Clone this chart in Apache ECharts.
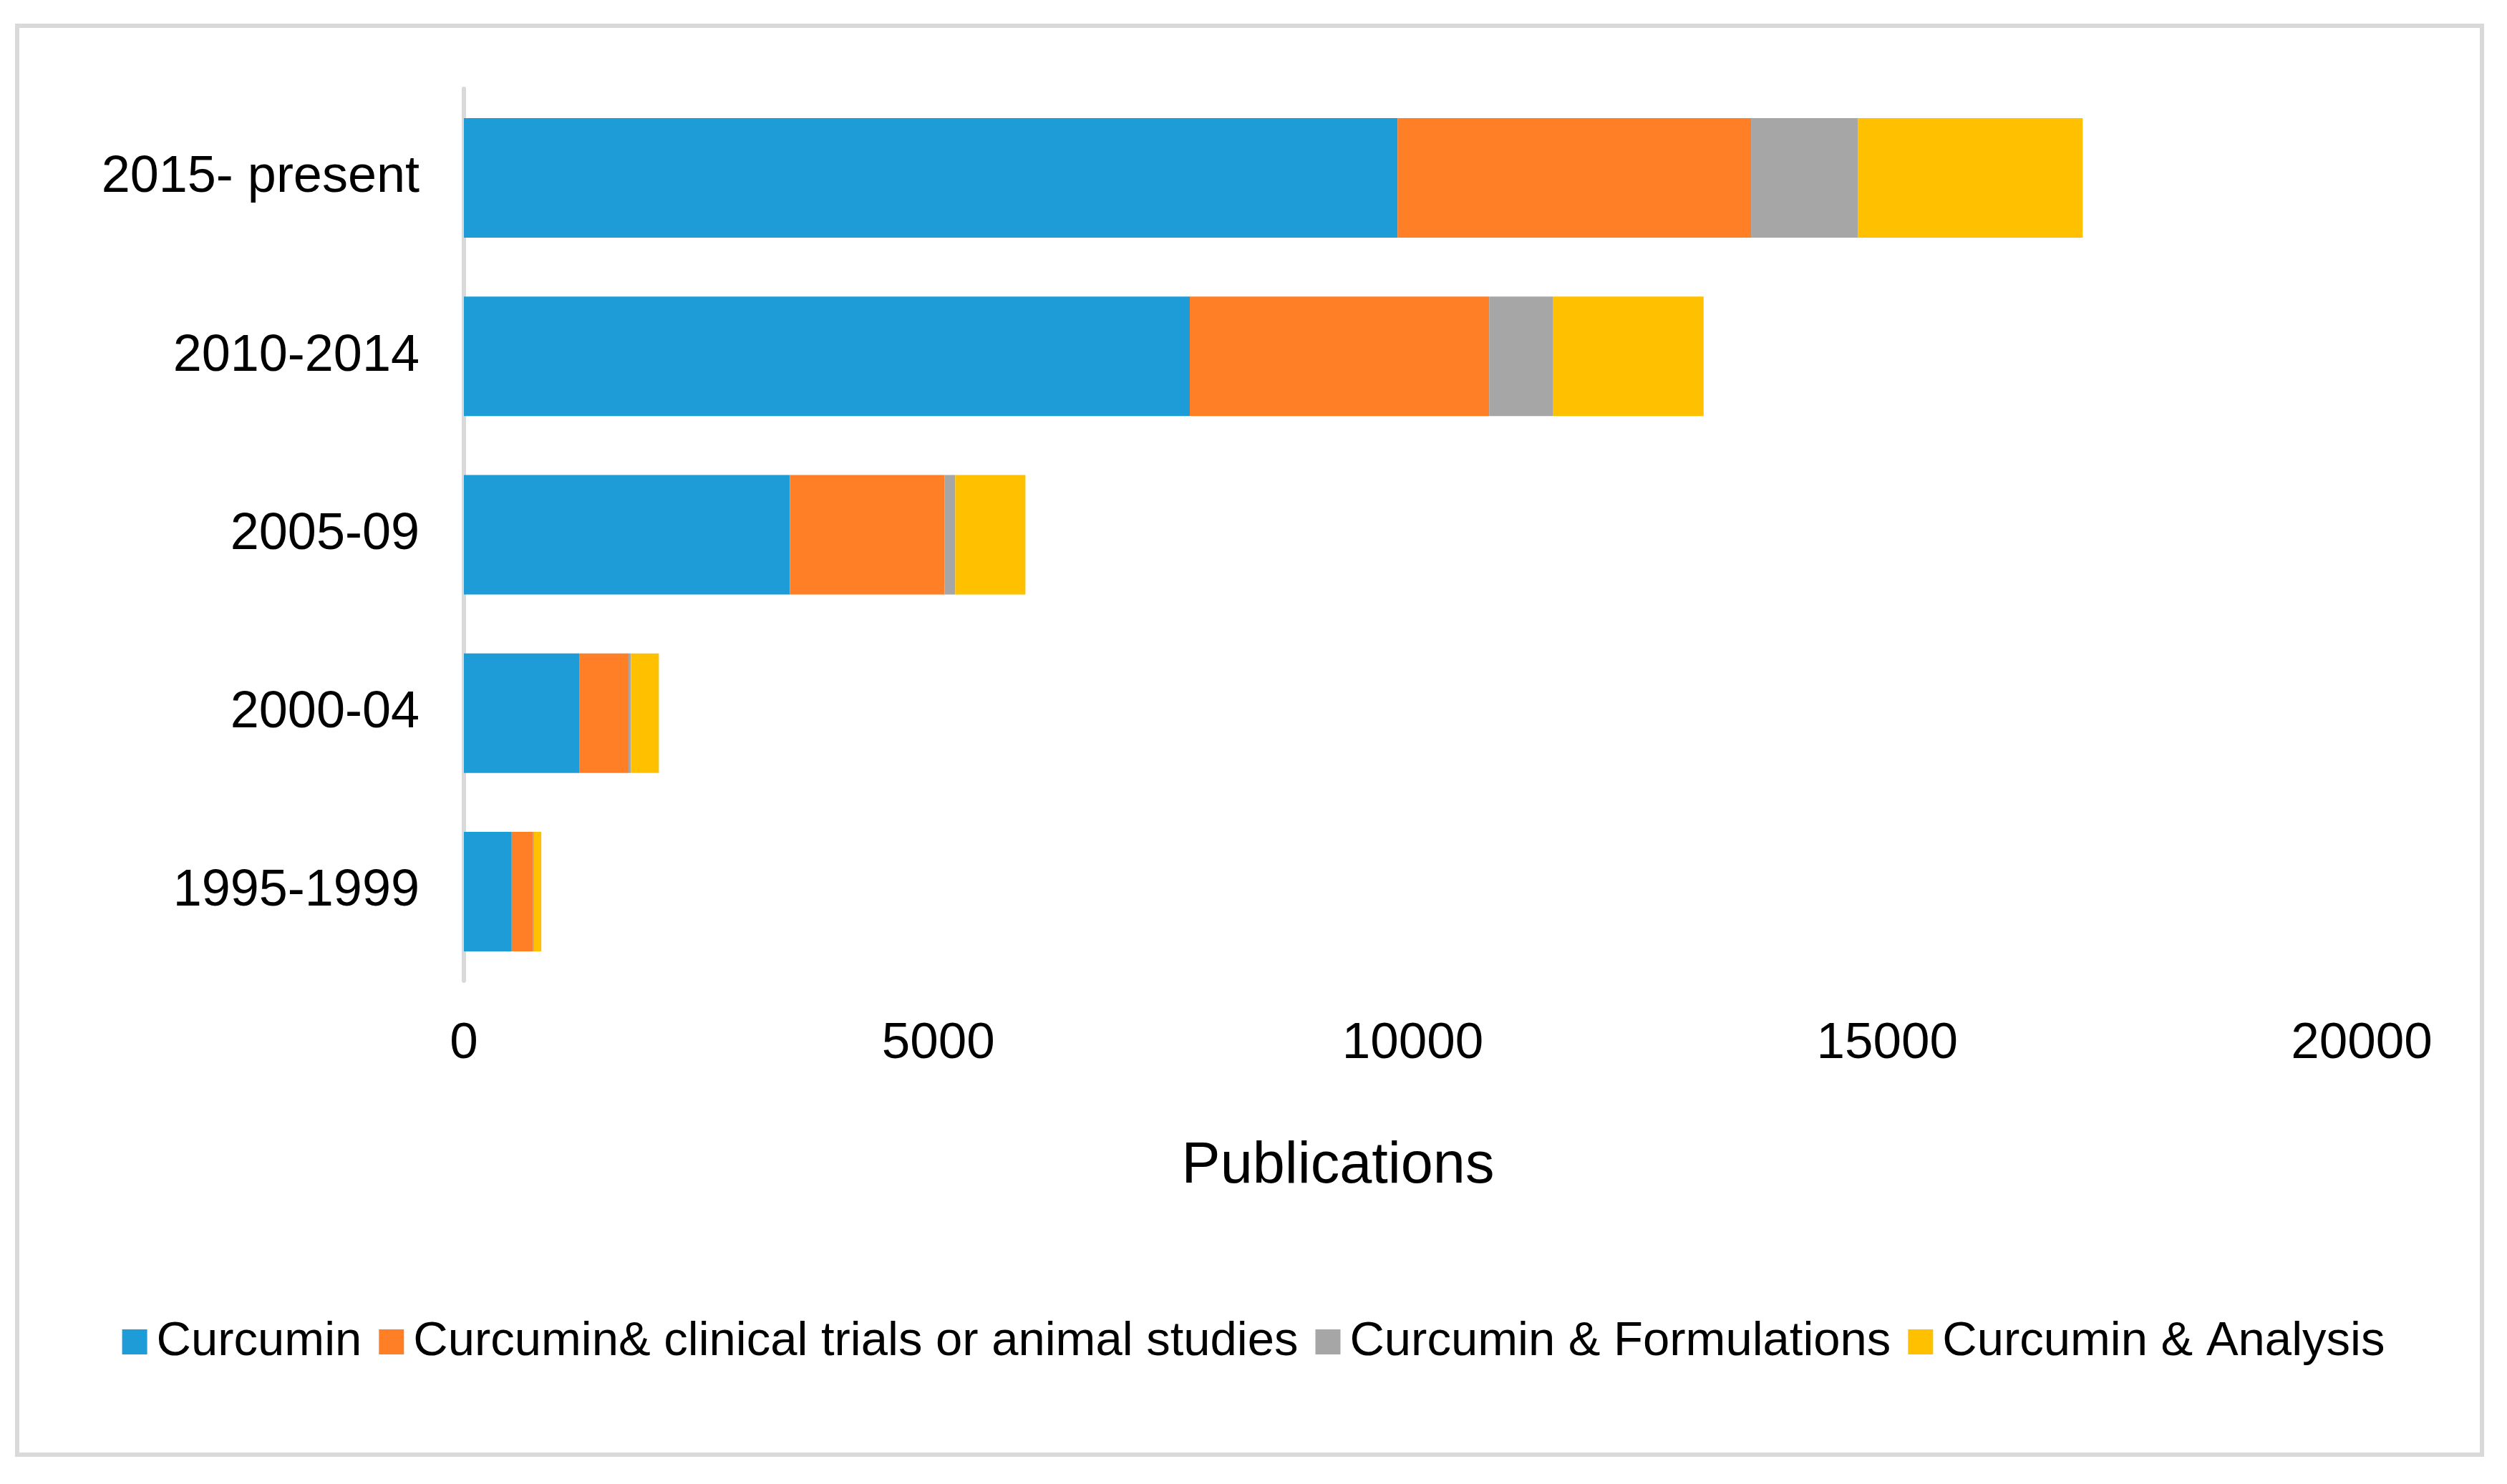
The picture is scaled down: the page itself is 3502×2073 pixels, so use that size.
<!DOCTYPE html>
<html>
<head>
<meta charset="utf-8">
<title>Curcumin publications</title>
<script src="https://cdn.jsdelivr.net/npm/echarts@6/dist/echarts.min.js"></script>
<style>
  html, body { margin: 0; padding: 0; background: #fff; }
  #chart { width: 3502px; height: 2073px; }
</style>
</head>
<body>
<div id="chart"></div>
<script>
// periods, bottom to top
const periods = ["1995-1999", "2000-04", "2005-09", "2010-2014", "2015- present"];

const seriesNames = [
  "Curcumin",
  "Curcumin& clinical trials or animal studies",
  "Curcumin & Formulations",
  "Curcumin & Analysis"
];

// values
const curcumin = [504, 1215, 3435, 7650, 9840];
const clinical = [226, 520, 1630, 3155, 3725];
const formulations = [9, 25, 113, 670, 1125];
const analysis = [77, 295, 740, 1590, 2370];

const colors = ["#1e9cd7", "#ff7f27", "#a6a6a6", "#ffc000"];
const font = "Liberation Sans, Arial, sans-serif";

const chart = echarts.init(document.getElementById("chart"));

const seriesData = [curcumin, clinical, formulations, analysis];

const option = {
  backgroundColor: "#fff",
  animation: false,
  color: colors,
  grid: {
    left: 648,
    right: 203,
    top: 124,
    bottom: 703,
    containLabel: false
  },
  legend: {
    data: seriesNames,
    left: "center",
    top: 1836,
    icon: "rect",
    itemWidth: 35,
    itemHeight: 35,
    itemGap: 24,
    textStyle: {
      fontFamily: font,
      fontSize: 67,
      color: "#000",
      padding: [0, 0, 0, 8]
    }
  },
  xAxis: {
    type: "value",
    min: 0,
    max: 20000,
    interval: 5000,
    axisLine: { show: false },
    axisTick: { show: false },
    splitLine: { show: false },
    axisLabel: {
      margin: 53,
      fontFamily: font,
      fontSize: 71,
      color: "#000",
      formatter: (v) => String(v)
    }
  },
  yAxis: {
    type: "category",
    data: periods,
    axisLine: { show: true, lineStyle: { color: "#d9d9d9", width: 6 } },
    axisTick: { show: false },
    axisLabel: {
      margin: 62,
      fontFamily: font,
      fontSize: 72,
      color: "#000"
    }
  },
  graphic: [
    {
      type: "rect",
      shape: { x: 24, y: 36, width: 3443, height: 1996 },
      style: { fill: "none", stroke: "#d9d9d9", lineWidth: 6 },
      silent: true
    },
    {
      type: "text",
      x: 1869,
      y: 1630,
      style: {
        text: "Publications",
        fontFamily: font,
        fontSize: 81,
        fill: "#000",
        align: "center",
        verticalAlign: "middle"
      }
    }
  ],
  series: seriesNames.map((name, i) => ({
    name: name,
    type: "bar",
    stack: "total",
    barCategoryGap: "33%",
    data: seriesData[i]
  }))
};

chart.setOption(option);
</script>
</body>
</html>
